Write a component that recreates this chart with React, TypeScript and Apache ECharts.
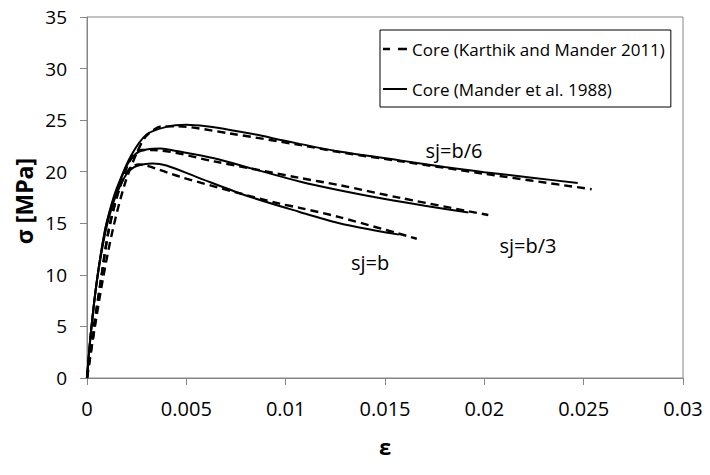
import React, { useEffect, useRef } from "react";
import * as echarts from "echarts";

// strain (ε) and stress (σ, MPa) pairs
const manderB6: [number, number][] = [
  [0, 0], [0.0002, 4.5], [0.0005, 9.5], [0.0009, 14.3], [0.0012, 16.6], [0.0015, 18.4],
  [0.0022, 21.5], [0.003, 23.6], [0.004, 24.35], [0.005, 24.55], [0.006, 24.4],
  [0.0072, 24.05], [0.0085, 23.6], [0.0097, 23.1], [0.0107, 22.7], [0.0127, 21.95],
  [0.01575, 21.1], [0.018, 20.45], [0.02, 19.95], [0.0225, 19.4], [0.0247, 18.9],
];
const manderB3: [number, number][] = [
  [0, 0], [0.0002, 4.5], [0.0005, 9.5], [0.0009, 14.2], [0.0012, 16.5], [0.0015, 18.2],
  [0.002, 20.6], [0.0025, 21.8], [0.003, 22.15], [0.0037, 22.25], [0.0045, 22.0],
  [0.0064, 21.3], [0.0085, 20.2], [0.0107, 19.05], [0.0127, 18.2], [0.015, 17.35],
  [0.017, 16.7], [0.0192, 16.05],
];
const manderB: [number, number][] = [
  [0, 0], [0.0002, 4.5], [0.0005, 9.4], [0.0009, 13.9], [0.0012, 16.2], [0.0015, 17.9],
  [0.002, 19.8], [0.0025, 20.55], [0.0033, 20.8], [0.004, 20.6], [0.0055, 19.5],
  [0.008, 17.7], [0.0107, 16.1], [0.0127, 15.0], [0.0145, 14.3], [0.0157, 13.9],
];
const karthikB6: [number, number][] = [
  [0, 0], [0.0004, 5], [0.0008, 9.6], [0.0013, 14.4], [0.0019, 18.8], [0.0025, 21.8],
  [0.003, 23.5], [0.0038, 24.4], [0.0045, 24.4], [0.0072, 23.7], [0.0107, 22.6],
  [0.0127, 21.9], [0.016, 20.95], [0.02, 19.8], [0.0254, 18.3],
];
const karthikB3: [number, number][] = [
  [0, 0], [0.0004, 5.2], [0.0007, 9.5], [0.0011, 14.4], [0.0017, 18.8], [0.0022, 21.2],
  [0.0027, 22.1], [0.0033, 22.1], [0.0064, 21.0], [0.0107, 19.4], [0.0127, 18.7],
  [0.0158, 17.45], [0.0202, 15.8],
];
const karthikB: [number, number][] = [
  [0, 0], [0.0003, 4.5], [0.0007, 9.5], [0.0011, 14.4], [0.0016, 18.2], [0.0021, 20.2],
  [0.0026, 20.7], [0.003, 20.6], [0.0047, 19.5], [0.0075, 18.0], [0.0097, 16.9],
  [0.0107, 16.5], [0.0127, 15.6], [0.0166, 13.5],
];

const xTicks = [0, 0.005, 0.01, 0.015, 0.02, 0.025, 0.03];
const yTicks = [0, 5, 10, 15, 20, 25, 30, 35];
const legendNames = ["Core (Karthik and Mander 2011)", "Core (Mander et al. 1988)"];
const curveLabels = ["sj=b/6", "sj=b/3", "sj=b"];

const FONT = "'Open Sans', 'Liberation Sans', sans-serif";

export default function App() {
  const ref = useRef<HTMLDivElement>(null);
  useEffect(() => {
    if (!ref.current) return;
    const chart = echarts.init(ref.current, null, { renderer: "svg" });
    const dashed = (data: [number, number][]) => ({
      type: "line",
      name: legendNames[0],
      data,
      symbol: "none",
      smooth: 0.3,
      lineStyle: { color: "#000", width: 2.4, type: [8, 5] },
      itemStyle: { color: "#000" },
    });
    const solid = (data: [number, number][]) => ({
      type: "line",
      name: legendNames[1],
      data,
      symbol: "none",
      smooth: 0.3,
      lineStyle: { color: "#000", width: 2, type: "solid" },
      itemStyle: { color: "#000" },
    });
    chart.setOption({
      animation: false,
      backgroundColor: "#fff",
      grid: {
        left: 87, right: 27, top: 17, bottom: 97,
        show: true, borderColor: "#868686", borderWidth: 1,
      },
      xAxis: {
        type: "value",
        min: xTicks[0],
        max: xTicks[xTicks.length - 1],
        interval: 0.005,
        splitLine: { show: false },
        axisLine: { lineStyle: { color: "#868686" } },
        axisTick: { show: true, length: 7, lineStyle: { color: "#868686" } },
        axisLabel: {
          margin: 20, color: "#000", fontSize: 20, fontFamily: FONT,
          formatter: (v: number) => String(+v.toFixed(3)),
        },
      },
      yAxis: {
        type: "value",
        min: yTicks[0],
        max: yTicks[yTicks.length - 1],
        interval: 5,
        splitLine: { show: false },
        axisLine: { show: true, lineStyle: { color: "#868686" } },
        axisTick: { show: true, length: 7, lineStyle: { color: "#868686" } },
        axisLabel: { margin: 20, color: "#000", fontSize: 19, fontFamily: FONT },
      },
      legend: {
        orient: "vertical",
        left: 380,
        top: 30,
        data: [
          { name: legendNames[0], icon: "path://M0,0H7V2.4H0ZM15,0H24V2.4H15Z" },
          { name: legendNames[1], icon: "path://M0,0H24V2H0Z" },
        ],
        backgroundColor: "#fff",
        borderColor: "#000",
        borderWidth: 1,
        borderRadius: 0,
        padding: [9, 6, 8, 3],
        itemWidth: 24,
        itemHeight: 2.4,
        itemGap: 20,
        itemStyle: { color: "#000", borderWidth: 0 },
        textStyle: { color: "#000", fontSize: 17, fontFamily: FONT, lineHeight: 20 },
      },
      series: [
        dashed(karthikB6), dashed(karthikB3), dashed(karthikB),
        solid(manderB6), solid(manderB3), solid(manderB),
      ],
      graphic: [
        { type: "text", x: 454, y: 150, style: { text: curveLabels[0], fontSize: 20, fontFamily: FONT, fill: "#000", textAlign: "center", textVerticalAlign: "middle" } },
        { type: "text", x: 528, y: 245, style: { text: curveLabels[1], fontSize: 20, fontFamily: FONT, fill: "#000", textAlign: "center", textVerticalAlign: "middle" } },
        { type: "text", x: 370, y: 262, style: { text: curveLabels[2], fontSize: 20, fontFamily: FONT, fill: "#000", textAlign: "center", textVerticalAlign: "middle" } },
        { type: "text", x: 24, y: 201, rotation: Math.PI / 2, style: { text: "σ [MPa]", fontSize: 23, fontWeight: "bold", fontFamily: FONT, fill: "#000", textAlign: "center", textVerticalAlign: "middle" } },
        { type: "text", x: 385, y: 446, style: { text: "ε", fontSize: 22, fontWeight: "bold", fontFamily: FONT, fill: "#000", textAlign: "center", textVerticalAlign: "middle" } },
      ],
    });
    return () => chart.dispose();
  }, []);
  return <div ref={ref} style={{ width: 710, height: 475, position: "absolute", left: 0, top: 0 }} />;
}
